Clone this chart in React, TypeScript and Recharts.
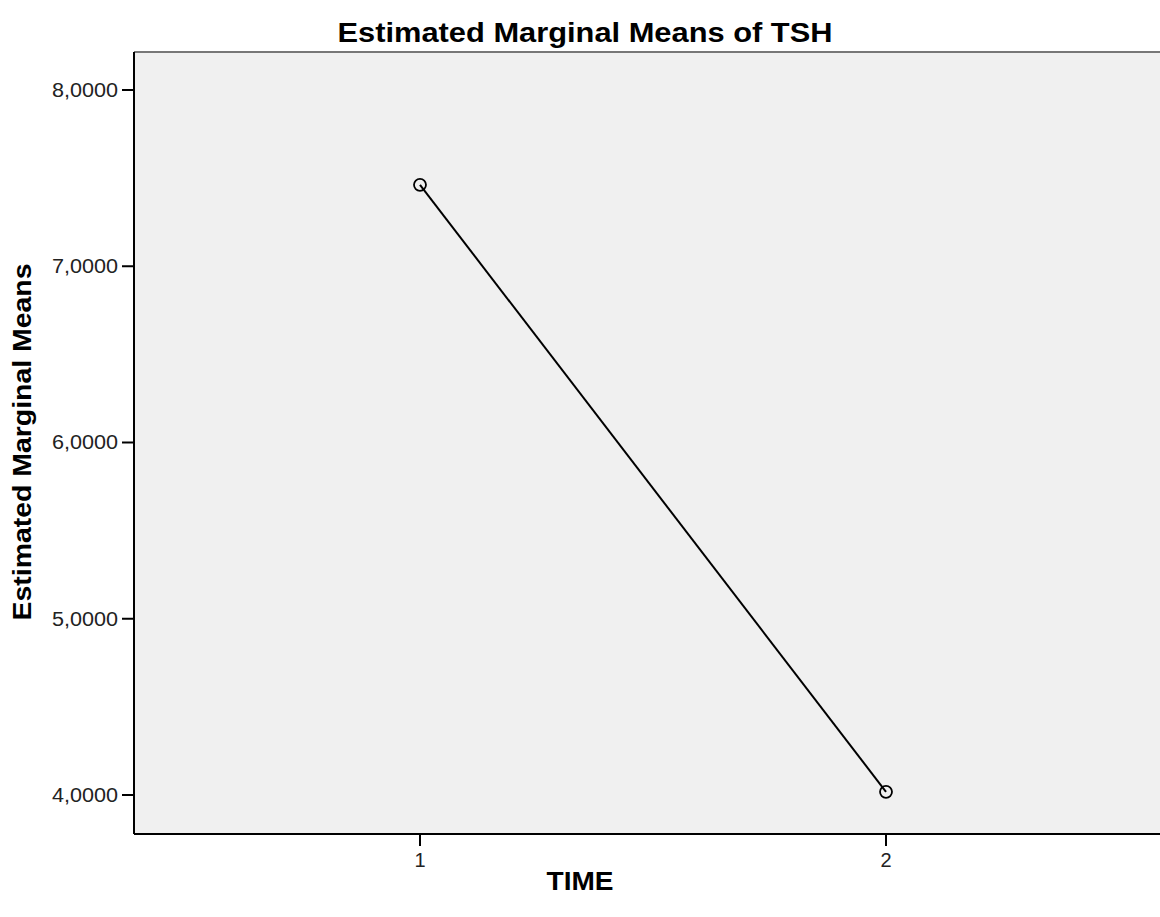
import React from 'react';
import { LineChart, Line, XAxis, YAxis, CartesianGrid, ReferenceLine, Label, Customized } from 'recharts';

const times = [1, 2];
const tshMeans = [7.462, 4.018];
const yTicks = [4, 5, 6, 7, 8];
const xTicks = [1, 2];
const chartTitle = 'Estimated Marginal Means of TSH';
const yTitle = 'Estimated Marginal Means';
const xTitle = 'TIME';

const data = times.map((t, i) => ({ time: t, value: tshMeans[i] }));

const FONT = '"Liberation Sans", Arial, sans-serif';

const fmt = (v: number) => v.toFixed(4).replace('.', ',');

const YTick = (props: any) => {
  const { x, y, payload } = props;
  return (
    <text x={x - 2} y={y} dy={7} textAnchor="end" fontFamily={FONT} fontSize={20} fill="#222"
      textLength={66} lengthAdjust="spacingAndGlyphs">
      {fmt(payload.value)}
    </text>
  );
};

const XTick = (props: any) => {
  const { x, y, payload } = props;
  return (
    <text x={x} y={y} dy={19} textAnchor="middle" fontFamily={FONT} fontSize={20} fill="#222">
      {String(payload.value)}
    </text>
  );
};

const Title = () => (
  <text x={585} y={42} textAnchor="middle" fontFamily={FONT} fontWeight="bold" fontSize={27} fill="#000"
    textLength={495} lengthAdjust="spacingAndGlyphs">
    {chartTitle}
  </text>
);

const Dot = (props: any) => {
  const { cx, cy } = props;
  return <circle cx={cx} cy={cy} r={6} fill="none" stroke="#000" strokeWidth={1.8} />;
};

export default function App() {
  return (
    <div style={{ position: 'absolute', left: 0, top: 0, width: 1160, height: 917, overflow: 'hidden', background: '#fff' }}>
      <LineChart width={1172} height={917} data={data} margin={{ top: 52, right: 0, bottom: 0, left: 0 }}>
        <CartesianGrid horizontal={false} vertical={false} fill="#F0F0F0" />
        <XAxis
          dataKey="time"
          type="number"
          domain={[0.3863, 2.6137]}
          ticks={xTicks}
          allowDataOverflow
          height={83}
          axisLine={{ stroke: '#000', strokeWidth: 2 }}
          tickLine={{ stroke: '#000', strokeWidth: 2 }}
          tickSize={12}
          tick={<XTick />}
        >
          <Label
            content={(p: any) => {
              const vb = p.viewBox;
              return (
                <text x={vb.x + 446} y={vb.y + 56} textAnchor="middle" fontFamily={FONT} fontWeight="bold" fontSize={25}
                  fill="#000" textLength={67} lengthAdjust="spacingAndGlyphs">
                  {xTitle}
                </text>
              );
            }}
          />
        </XAxis>
        <YAxis
          type="number"
          domain={[3.7787, 8.2156]}
          ticks={yTicks}
          allowDataOverflow
          width={134}
          axisLine={{ stroke: '#000', strokeWidth: 2 }}
          tickLine={{ stroke: '#000', strokeWidth: 2 }}
          tickSize={12}
          tick={<YTick />}
        >
          <Label
            content={() => {
              const cx = 31;
              const cy = 442;
              return (
                <text x={cx} y={cy} transform={`rotate(-90 ${cx} ${cy})`} textAnchor="middle" fontFamily={FONT}
                  fontWeight="bold" fontSize={25} fill="#000" textLength={357} lengthAdjust="spacingAndGlyphs">
                  {yTitle}
                </text>
              );
            }}
          />
        </YAxis>
        <ReferenceLine y={8.2156} stroke="#777" strokeWidth={2} ifOverflow="visible" />
        <Line
          dataKey="value"
          stroke="#000"
          strokeWidth={2}
          dot={<Dot />}
          activeDot={false}
          isAnimationActive={false}
        />
        <Customized component={Title} />
      </LineChart>
    </div>
  );
}
